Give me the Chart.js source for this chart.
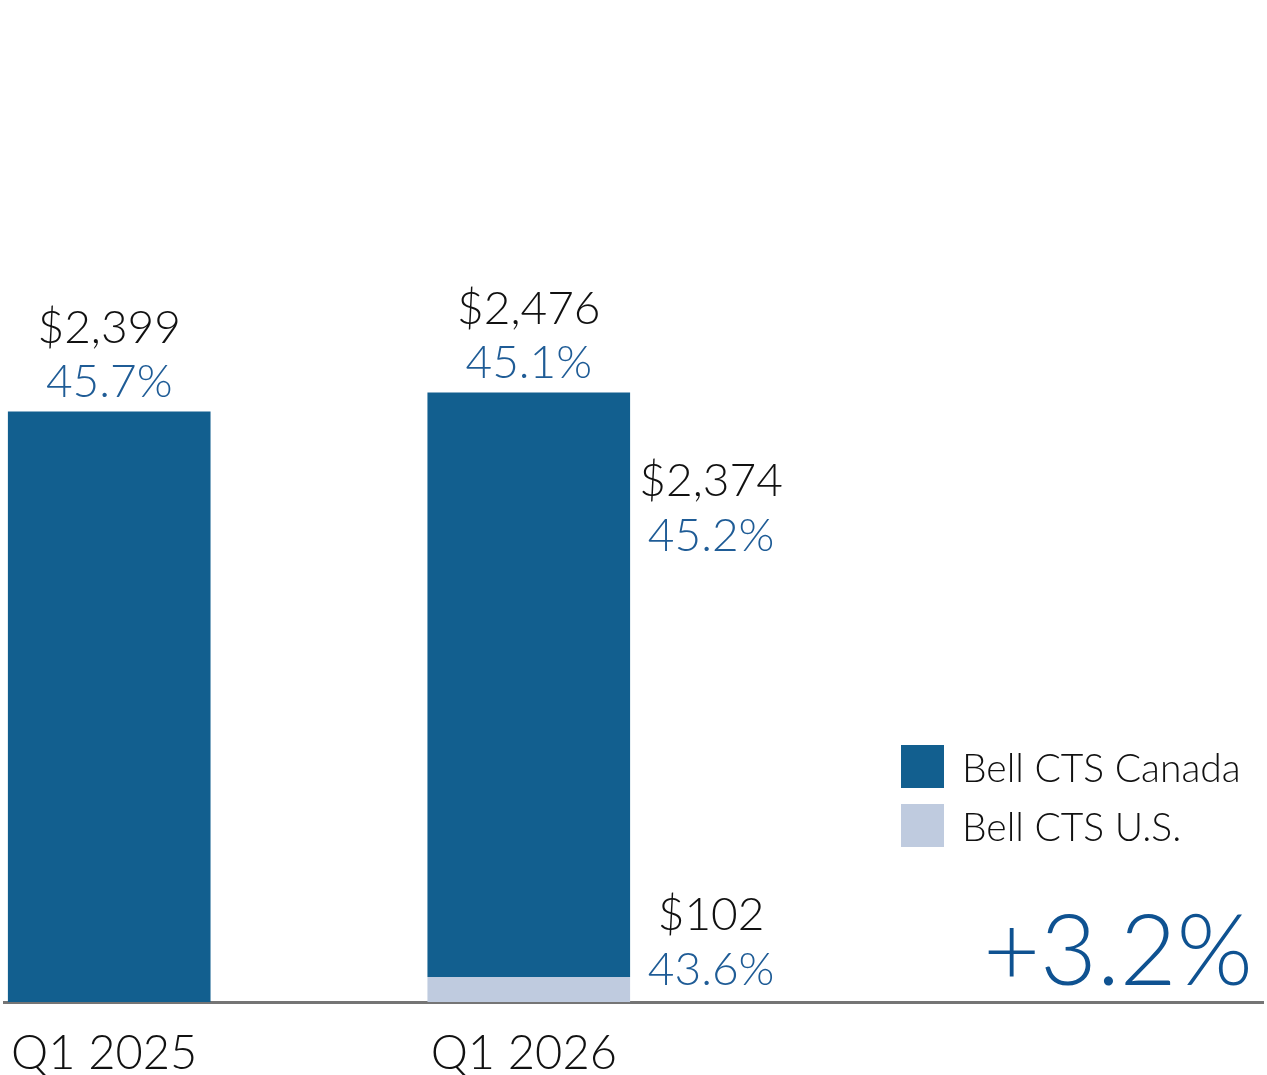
<!DOCTYPE html>
<html>
<head>
<meta charset="utf-8">
<title>Bell CTS</title>
<script src="https://cdn.jsdelivr.net/npm/chart.js@4"></script>
<style>
  html, body { margin: 0; padding: 0; background: #fff; }
  #wrap { position: relative; width: 1267px; height: 1075px; }
</style>
</head>
<body>
<div id="wrap"><canvas id="chart" width="1267" height="1075"></canvas></div>
<script>
// Datos del gráfico
const categorias = ['Q1 2025', '', 'Q1 2026', '', '', ''];
const canada = [2399, null, 2374, null, null, null];
const usa = [null, null, 102, null, null, null];
const margenCanada = [45.7, null, 45.2, null, null, null];
const margenUsa = [null, null, 43.6, null, null, null];
const margenTotal = [45.7, null, 45.1, null, null, null];
const crecimiento = '+3.2%';
const nombresSeries = ['Bell CTS Canada', 'Bell CTS U.S.'];

const AZUL = '#125f8f';
const AZUL_CLARO = '#bfcbdf';
const TEXTO_PCT = '#1f5c96';
const FUENTE = 'Lato, "Open Sans", sans-serif';

function dinero(v) {
    return '$' + v.toLocaleString('en-US');
}

// Etiquetas, leyenda y crecimiento dibujados sobre el gráfico
const etiquetasPlugin = {
    id: 'etiquetas',
    afterDatasetsDraw(chart) {
        const ctx = chart.ctx;
        const area = chart.chartArea;
        // el dataset 0 (U.S.) va abajo, el 1 (Canada) encima
        const metaUs = chart.getDatasetMeta(0);
        const metaCa = chart.getDatasetMeta(1);
        ctx.save();
        ctx.font = '300 46px ' + FUENTE;

        for (let i = 0; i < categorias.length; i++) {
            if (canada[i] == null) continue;
            const barCa = metaCa.data[i];
            const total = (canada[i] || 0) + (usa[i] || 0);
            const top = barCa.y;

            // total encima de la barra
            ctx.textAlign = 'center';
            ctx.textBaseline = 'alphabetic';
            ctx.fillStyle = '#111';
            ctx.fillText(dinero(total), barCa.x, top - 68);
            ctx.fillStyle = TEXTO_PCT;
            ctx.fillText(margenTotal[i].toFixed(1) + '%', barCa.x, top - 14);

            // desglose a la derecha cuando hay dos segmentos
            if (usa[i] != null) {
                const cx = barCa.x + barCa.width / 2 + 81;
                ctx.fillStyle = '#111';
                ctx.fillText(dinero(canada[i]), cx, barCa.y + 104);
                ctx.fillStyle = TEXTO_PCT;
                ctx.fillText(margenCanada[i].toFixed(1) + '%', cx, barCa.y + 159);

                const barUs = metaUs.data[i];
                ctx.fillStyle = '#111';
                ctx.fillText(dinero(usa[i]), cx, barUs.base - 72);
                ctx.fillStyle = TEXTO_PCT;
                ctx.fillText(margenUsa[i].toFixed(1) + '%', cx, barUs.base - 17);
            }
        }

        // leyenda (Canada primero)
        const orden = [1, 0];
        ctx.font = '300 39px ' + FUENTE;
        ctx.textAlign = 'left';
        ctx.textBaseline = 'middle';
        orden.forEach((d, k) => {
            const ds = chart.data.datasets[d];
            const x = area.right - 362;
            const y = area.bottom - 257 + k * 59;
            ctx.fillStyle = ds.backgroundColor;
            ctx.fillRect(x, y, 43, 43);
            ctx.fillStyle = '#111';
            ctx.fillText(ds.label, x + 61, y + 24);
        });

        // crecimiento
        ctx.font = '300 98px ' + FUENTE;
        ctx.textAlign = 'right';
        ctx.textBaseline = 'alphabetic';
        ctx.fillStyle = '#0f5291';
        ctx.fillText(crecimiento, area.right - 10, area.bottom - 17);
        ctx.restore();
    }
};

const ctx = document.getElementById('chart').getContext('2d');
new Chart(ctx, {
    type: 'bar',
    data: {
        labels: categorias,
        datasets: [
            {
                label: nombresSeries[1],
                data: usa,
                backgroundColor: AZUL_CLARO
            },
            {
                label: nombresSeries[0],
                data: canada,
                backgroundColor: AZUL
            }
        ]
    },
    options: {
        responsive: false,
        animation: false,
        devicePixelRatio: 1,
        layout: { padding: { left: 1, right: 4, top: 0, bottom: 0 } },
        plugins: {
            legend: { display: false },
            tooltip: { enabled: false }
        },
        datasets: {
            bar: { categoryPercentage: 1, barPercentage: 0.966, borderWidth: 0 }
        },
        scales: {
            x: {
                stacked: true,
                grid: { display: false },
                border: { display: true, color: '#757575', width: 3 },
                ticks: {
                    color: '#111',
                    font: { family: FUENTE, size: 47, weight: '300' },
                    padding: 16,
                    labelOffset: -5,
                    maxRotation: 0,
                    autoSkip: false
                },
                afterFit: s => { s.height = 73; }
            },
            y: {
                stacked: true,
                display: false,
                min: 0,
                max: 4070
            }
        }
    },
    plugins: [etiquetasPlugin]
});
</script>
</body>
</html>
